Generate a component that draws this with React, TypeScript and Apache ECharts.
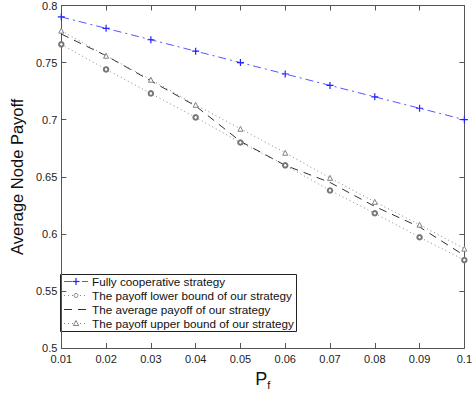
import React, { useEffect, useRef } from "react";
import * as echarts from "echarts";

const pf = [0.01, 0.02, 0.03, 0.04, 0.05, 0.06, 0.07, 0.08, 0.09, 0.1];
const fullyCooperative = [0.79, 0.78, 0.77, 0.76, 0.75, 0.74, 0.73, 0.72, 0.71, 0.7];
const lowerBound = [0.766, 0.744, 0.723, 0.702, 0.68, 0.66, 0.638, 0.618, 0.597, 0.577];
const averagePayoff = [0.775, 0.756, 0.734, 0.712, 0.681, 0.66, 0.645, 0.624, 0.606, 0.581];
const upperBound = [0.778, 0.756, 0.735, 0.713, 0.692, 0.671, 0.649, 0.628, 0.608, 0.587];
const seriesNames = [
  "Fully cooperative strategy",
  "The payoff lower bound of our strategy",
  "The average payoff of our strategy",
  "The payoff upper bound of our strategy",
];

const pairs = (ys: number[]) => pf.map((x, i) => [x, ys[i]]);

const FONT = "Liberation Sans, Arial, sans-serif";
const AXIS_COLOR = "#555";
const BLUE_LINE = "#5555ff";
const BLUE_MARK = "#2222ff";
const GREY_LINE = "#888";
const GREY_MARK = "#777";
const DARK = "#333";
const DASH_DOT = [8, 4, 2, 4];
const DOTTED = [1, 3];
const DASHED = [8, 6];

function buildLegend() {
  const left = 60;
  const top = 274;
  const w = 236;
  const h = 57;
  const rowY = [281, 295, 309, 323];
  const x0 = 64;
  const x1 = 88;
  const xm = (x0 + x1) / 2;
  const els: any[] = [
    {
      type: "rect",
      shape: { x: left + 0.5, y: top + 0.5, width: w, height: h },
      style: { fill: "#fff", stroke: "#222", lineWidth: 1 },
    },
  ];
  const lineStyles = [
    { stroke: BLUE_LINE, lineDash: DASH_DOT },
    { stroke: GREY_LINE, lineDash: DOTTED },
    { stroke: DARK, lineDash: DASHED },
    { stroke: GREY_LINE, lineDash: DOTTED },
  ];
  rowY.forEach((y, i) => {
    els.push({
      type: "line",
      shape: { x1: x0, y1: y + 0.5, x2: x1, y2: y + 0.5 },
      style: { ...lineStyles[i], lineWidth: 1 },
    });
    els.push({
      type: "text",
      x: 92,
      y: y,
      style: {
        text: seriesNames[i],
        fontFamily: FONT,
        fontSize: 11.7,
        fill: "#111",
        verticalAlign: "middle",
        align: "left",
      },
    });
  });
  els.push({ type: "line", shape: { x1: xm - 3.5, y1: rowY[0] + 0.5, x2: xm + 3.5, y2: rowY[0] + 0.5 }, style: { stroke: BLUE_MARK, lineWidth: 1.2 } });
  els.push({ type: "line", shape: { x1: xm, y1: rowY[0] - 3, x2: xm, y2: rowY[0] + 4 }, style: { stroke: BLUE_MARK, lineWidth: 1.2 } });
  els.push({ type: "circle", shape: { cx: xm, cy: rowY[1] + 0.5, r: 2 }, style: { fill: "#fff", stroke: GREY_MARK, lineWidth: 0.9 } });
  els.push({
    type: "polygon",
    shape: { points: [[xm, rowY[3] - 2.5], [xm + 2.7, rowY[3] + 2.5], [xm - 2.7, rowY[3] + 2.5]] },
    style: { fill: "#fff", stroke: GREY_MARK, lineWidth: 0.9 },
  });
  return els;
}

export default function App() {
  const ref = useRef<HTMLDivElement>(null);
  useEffect(() => {
    if (!ref.current) return;
    const chart = echarts.init(ref.current, null, { renderer: "svg" });
    const axisCommon = {
      axisLine: { show: true, onZero: false, lineStyle: { color: AXIS_COLOR, width: 1 } },
      axisTick: { show: true, inside: true, length: 5, lineStyle: { color: AXIS_COLOR } },
      splitLine: { show: false },
    };
    chart.setOption({
      animation: false,
      backgroundColor: "#fff",
      grid: { left: 44, right: 4, top: 4, bottom: 38, containLabel: false },
      xAxis: [
        {
          type: "value",
          min: 0.01,
          max: 0.1,
          interval: 0.01,
          ...axisCommon,
          axisLabel: {
            fontFamily: FONT,
            fontSize: 11,
            color: "#222",
            margin: 5,
            formatter: (v: number) => String(Math.round(v * 100) / 100),
          },
          name: "{p|P}{f|f}",
          nameLocation: "middle",
          nameGap: 20,
          nameTextStyle: {
            rich: {
              p: { fontFamily: FONT, fontSize: 18, color: "#111" },
              f: { fontFamily: FONT, fontSize: 11, color: "#111", padding: [11, 0, 0, 0] },
            },
          },
        },
        {
          type: "value",
          position: "top",
          min: 0.01,
          max: 0.1,
          interval: 0.01,
          ...axisCommon,
          axisLabel: { show: false },
        },
      ],
      yAxis: [
        {
          type: "value",
          min: 0.5,
          max: 0.8,
          interval: 0.05,
          ...axisCommon,
          axisLabel: {
            fontFamily: FONT,
            fontSize: 11,
            color: "#222",
            margin: 4,
            formatter: (v: number) => String(Math.round(v * 100) / 100),
          },
          name: "Average Node Payoff",
          nameLocation: "middle",
          nameGap: 30,
          nameTextStyle: { fontFamily: FONT, fontSize: 16.5, color: "#111" },
        },
        {
          type: "value",
          position: "right",
          min: 0.5,
          max: 0.8,
          interval: 0.05,
          ...axisCommon,
          axisLabel: { show: false },
        },
      ],
      graphic: buildLegend(),
      series: [
        {
          name: seriesNames[0],
          type: "line",
          data: pairs(fullyCooperative),
          symbol: "path://M0,5L10,5M5,0L5,10",
          symbolSize: 7,
          itemStyle: { color: "none", borderColor: BLUE_MARK, borderWidth: 1.2 },
          lineStyle: { color: BLUE_LINE, width: 1, type: DASH_DOT },
        },
        {
          name: seriesNames[1],
          type: "line",
          data: pairs(lowerBound),
          symbol: "emptyCircle",
          symbolSize: 4.5,
          itemStyle: { color: GREY_MARK, borderColor: GREY_MARK, borderWidth: 0.8 },
          lineStyle: { color: GREY_LINE, width: 1, type: DOTTED },
        },
        {
          name: seriesNames[2],
          type: "line",
          data: pairs(averagePayoff),
          symbol: "none",
          itemStyle: { color: DARK },
          lineStyle: { color: DARK, width: 1, type: DASHED },
        },
        {
          name: seriesNames[3],
          type: "line",
          data: pairs(upperBound),
          symbol: "path://M5,0L10,9L0,9Z",
          symbolSize: 5,
          itemStyle: { color: "#fff", borderColor: GREY_MARK, borderWidth: 0.9 },
          lineStyle: { color: GREY_LINE, width: 1, type: DOTTED },
        },
      ],
    });
    return () => chart.dispose();
  }, []);
  return <div ref={ref} style={{ width: 475, height: 395, position: "absolute", left: 0, top: 0 }} />;
}
